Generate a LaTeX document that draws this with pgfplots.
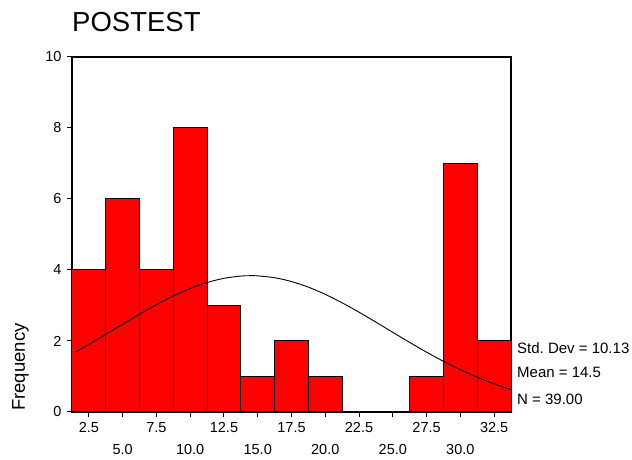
\documentclass[border=0pt]{standalone}
\usepackage{fontspec}
\setmainfont{Liberation Sans}
\usepackage{pgfplots}
\pgfplotsset{compat=1.18}

\begin{document}
\begin{tikzpicture}[x=1pt,y=1pt]
\useasboundingbox (-72,-48) rectangle (560,412);
\begin{axis}[
    at={(0,0)}, anchor=south west,
    scale only axis,
    width=439pt, height=355pt,
    xmin=1.25, xmax=33.75,
    ymin=0, ymax=10,
    axis line style={line width=1.2pt},
    tick style={line width=1pt, black},
    tick align=outside,
    major tick length=5pt,
    xtick pos=bottom, ytick pos=left,
    ytick={0,2,...,10},
    xtick={2.5,7.5,12.5,17.5,22.5,27.5,32.5},
    xticklabels={2.5,7.5,12.5,17.5,22.5,27.5,32.5},
    extra x ticks={5,10,15,20,25,30},
    extra x tick labels={5.0,10.0,15.0,20.0,25.0,30.0},
    extra x tick style={tick label style={yshift=-22pt}},
    xticklabel style={yshift=-2pt},
    yticklabel style={xshift=-2pt},
    tick label style={font=\fontsize{14.5}{16}\selectfont},
    /pgf/number format/assume math mode=true,
    clip=false,
]
% frequencies per bin of width 2.5 (bins 21.25-26.25 are empty)
\addplot[ybar interval, fill={rgb,255:red,255;green,0;blue,0}, draw=black, line width=1pt]
coordinates {
(1.25,4) (3.75,6) (6.25,4) (8.75,8) (11.25,3) (13.75,1) (16.25,2)
(18.75,1) (21.25,1)
};
\addplot[ybar interval, fill={rgb,255:red,255;green,0;blue,0}, draw=black, line width=1pt]
coordinates {
(26.25,1) (28.75,7) (31.25,2) (33.75,2)
};
% normal curve, mean 14.5, sd 10.13, N 39
\addplot[black, line width=0.9pt, smooth] table {
x y
1.5 1.685
2.5 1.904
3.75 2.187
5 2.474
6.25 2.756
7.5 3.025
8.75 3.269
10 3.479
11.25 3.647
12.5 3.766
13.75 3.829
14.5 3.840
15 3.835
16.25 3.783
17.5 3.675
18.75 3.517
20 3.314
21.25 3.075
22.5 2.811
23.75 2.531
25 2.244
26.25 1.960
27.5 1.685
28.75 1.428
30 1.191
31.25 0.979
32.5 0.792
33.75 0.631
};
\end{axis}
\node[anchor=base west, inner sep=0pt, font=\fontsize{27.5}{30}\selectfont] at (0,380) {POSTEST};
\node[anchor=base west, inner sep=0pt, rotate=90, font=\fontsize{18.5}{22}\selectfont] at (-47,1) {Frequency};
\begin{scope}[every node/.style={anchor=base west, inner sep=0pt, font=\fontsize{15}{18}\selectfont}]
\node at (445,58) {Std.\ Dev = 10.13};
\node at (445,34) {Mean = 14.5};
\node at (445,7) {N = 39.00};
\end{scope}
\end{tikzpicture}
\end{document}
